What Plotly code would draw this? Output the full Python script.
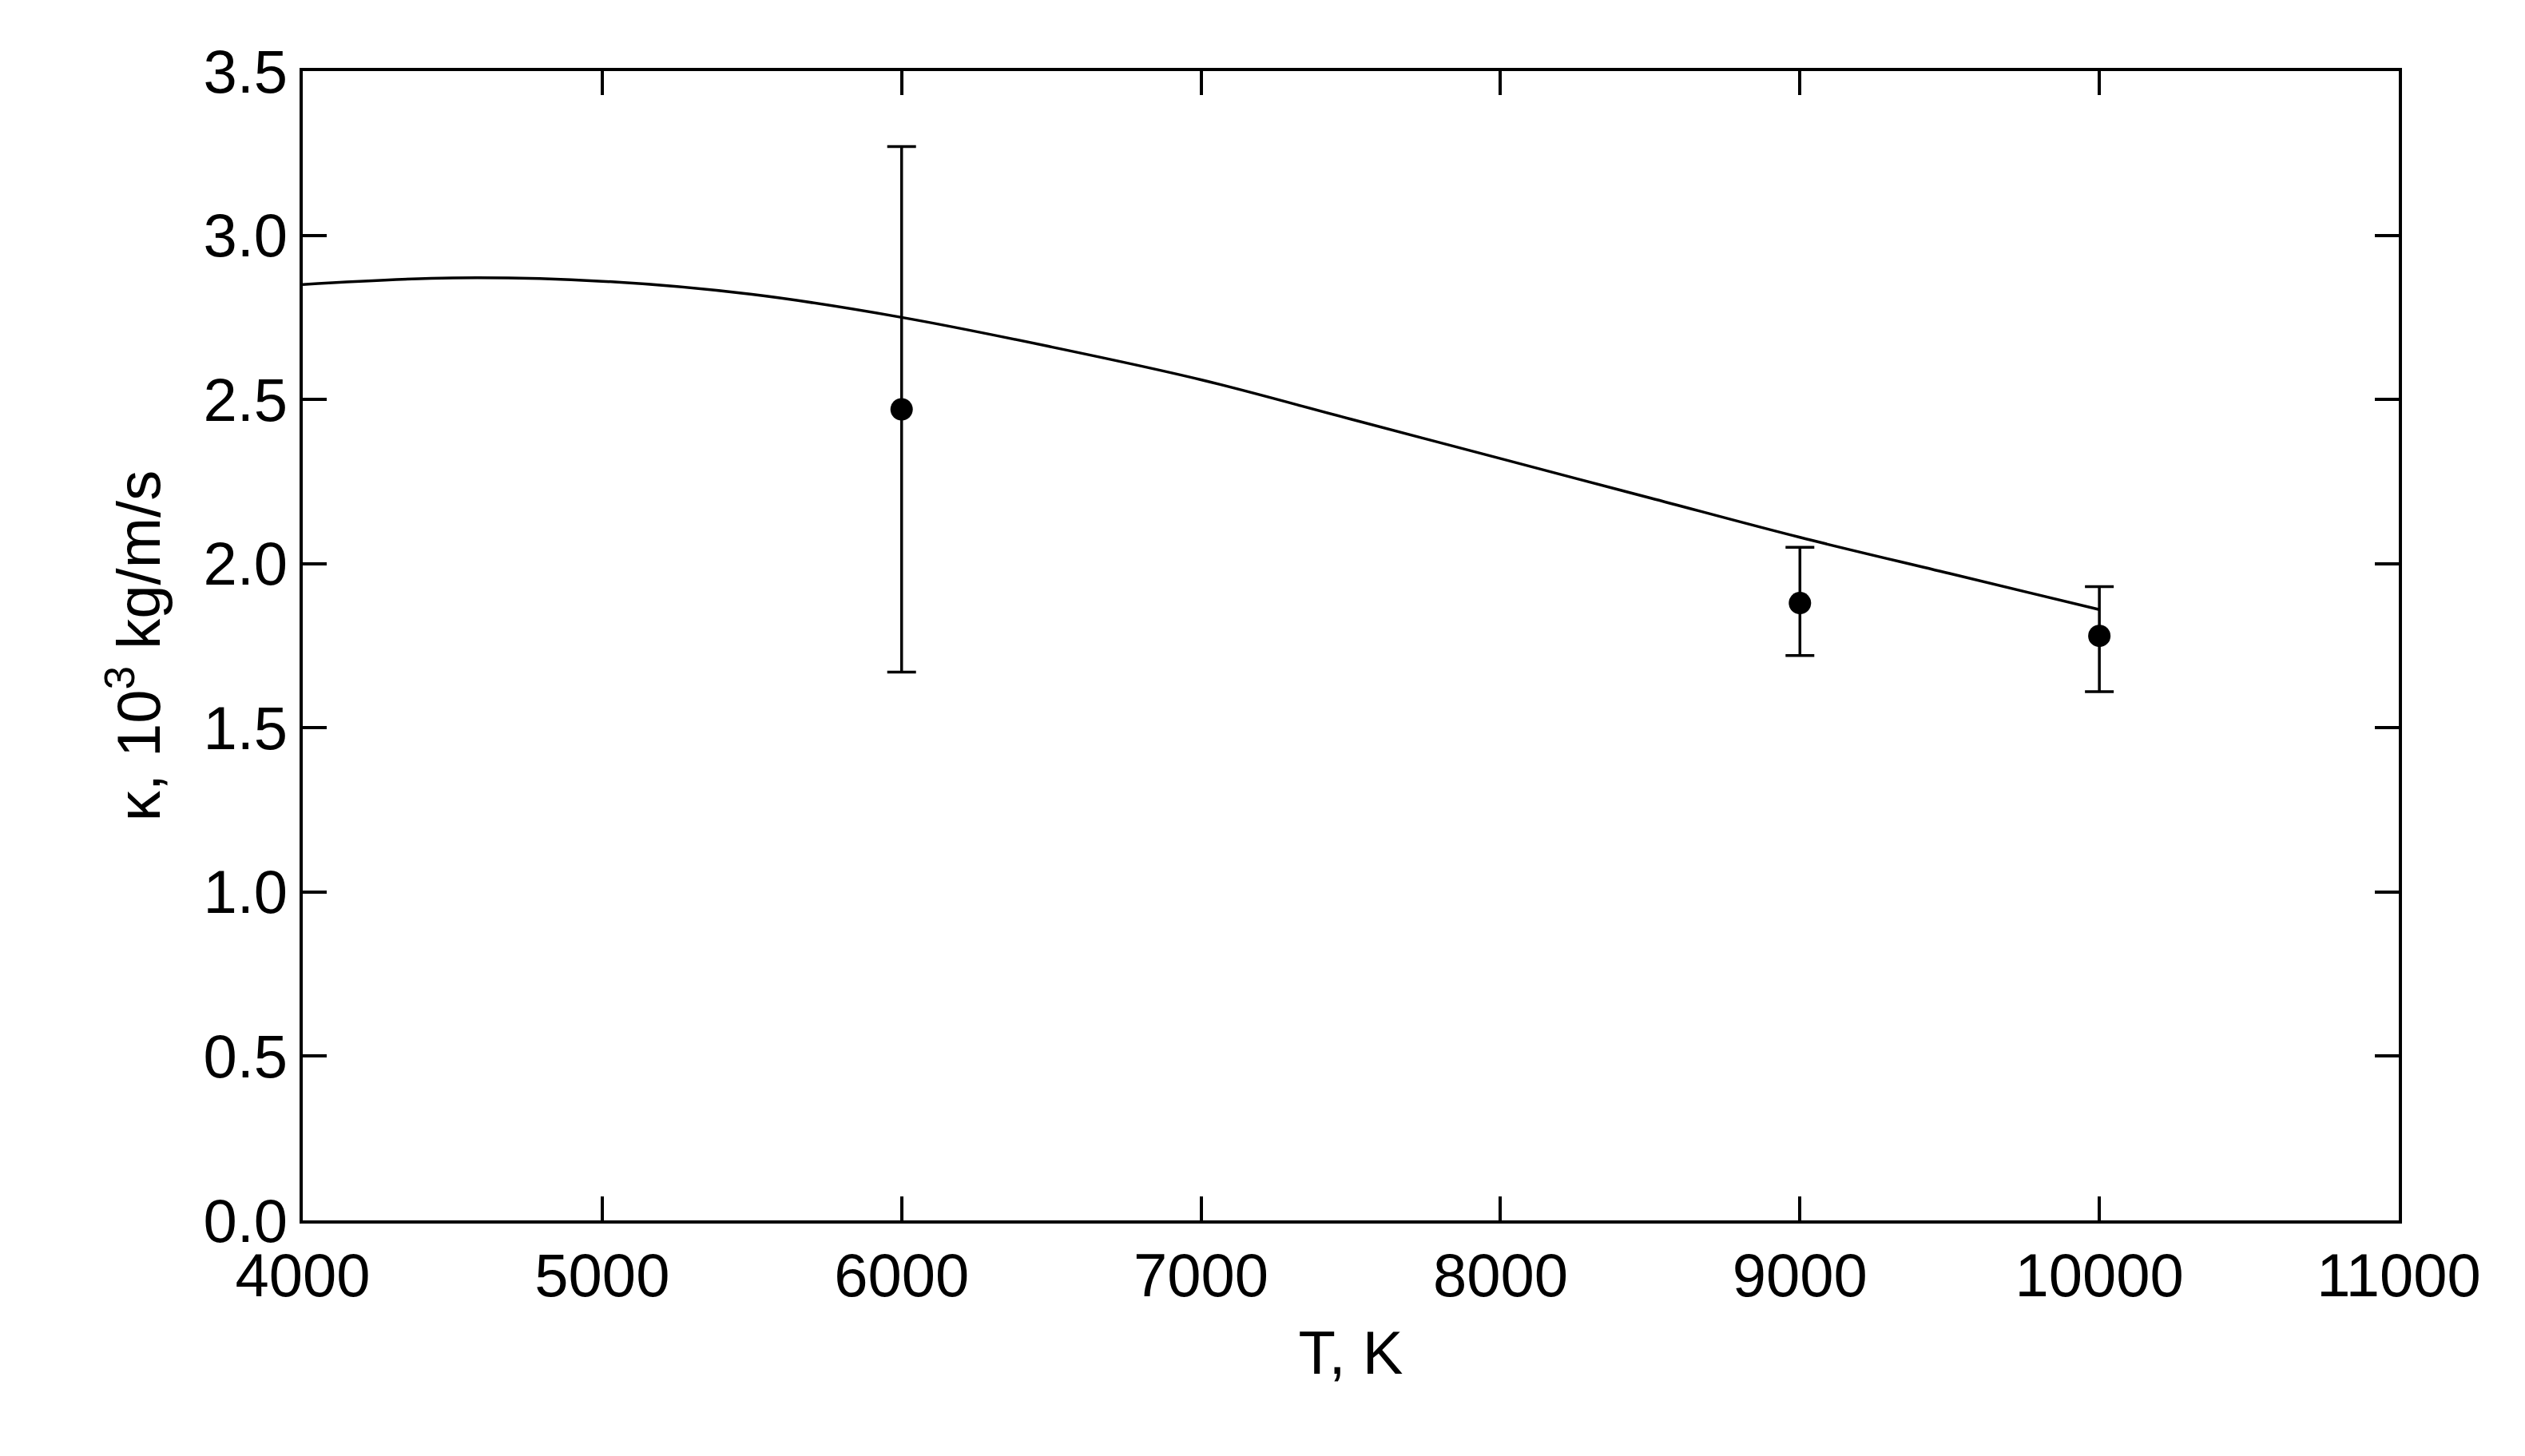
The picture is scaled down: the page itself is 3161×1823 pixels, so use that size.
import plotly.graph_objects as go

# model curve
curve_t = [4000, 4500, 5000, 5500, 6000, 6500, 7000, 7500, 8000, 8500, 9000, 9500, 10000]
curve_k = [2.85, 2.87, 2.86, 2.82, 2.75, 2.66, 2.56, 2.44, 2.32, 2.20, 2.08, 1.97, 1.86]

# measured points with error bars
pts_t = [6000, 9000, 10000]
pts_k = [2.47, 1.88, 1.78]
err_up = [0.80, 0.17, 0.15]
err_down = [0.80, 0.16, 0.17]

fig = go.Figure()
fig.add_trace(go.Scatter(x=curve_t, y=curve_k, mode='lines', line=dict(color='black', width=3.5, shape='spline'),
                         showlegend=False))
fig.add_trace(go.Scatter(x=pts_t, y=pts_k, mode='markers', marker=dict(color='black', size=28),
                         error_y=dict(type='data', array=err_up, arrayminus=err_down, color='black',
                                      thickness=3.5, width=18),
                         showlegend=False))

axis_common = dict(showline=True, linecolor='black', linewidth=3.5, mirror='ticks', ticks='inside',
                   ticklen=30, tickwidth=3.5, tickcolor='black', showgrid=False, zeroline=False,
                   tickfont=dict(size=76, family='Liberation Sans', color='black'))
fig.update_xaxes(range=[4000, 11000], dtick=1000, tickformat='d',
                 title=dict(text='T, K', standoff=30, font=dict(size=76, family='Liberation Sans', color='black')),
                 **axis_common)
fig.update_yaxes(range=[0, 3.5], dtick=0.5, tickformat='.1f',
                 title=dict(text='κ, 10<sup>3</sup> kg/m/s', standoff=30,
                            font=dict(size=76, family='Liberation Sans', color='black')),
                 **axis_common)
fig.update_layout(width=3161, height=1823, plot_bgcolor='white', paper_bgcolor='white',
                  margin=dict(l=371, r=166, t=81, b=303))
fig.write_html("out.html")
